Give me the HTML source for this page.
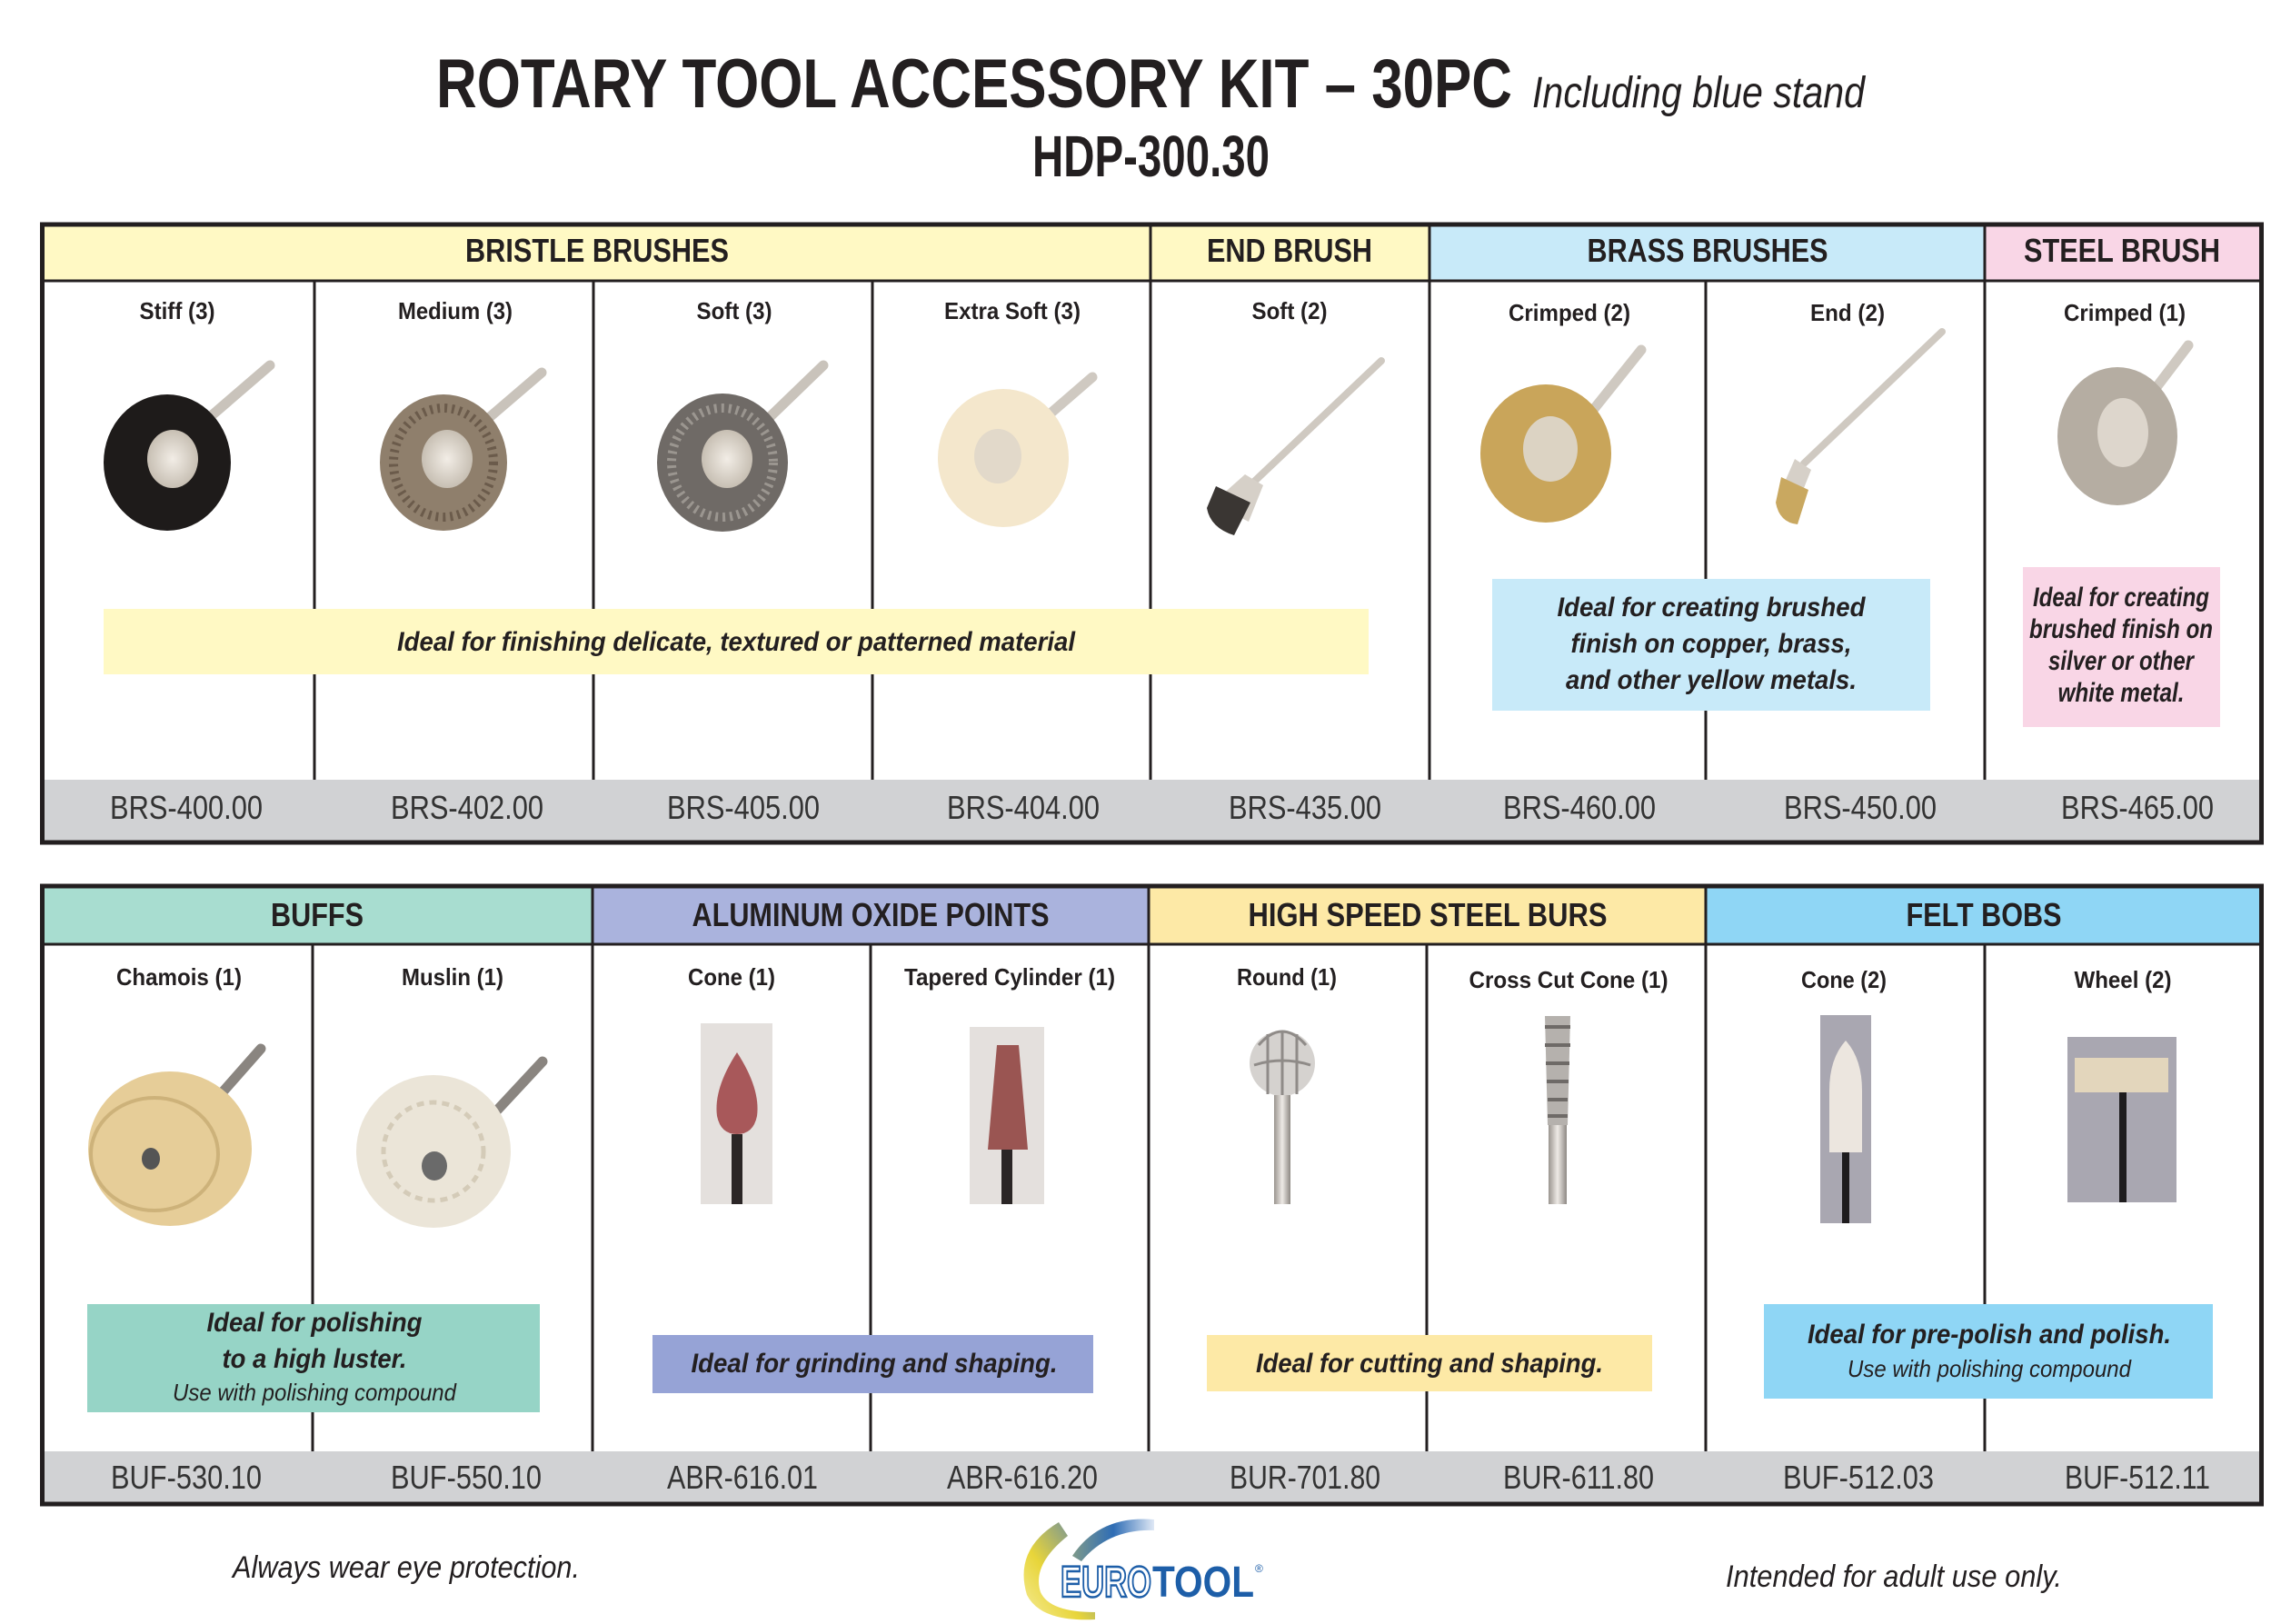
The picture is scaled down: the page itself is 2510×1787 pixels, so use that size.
<!DOCTYPE html>
<html><head><meta charset="utf-8"><style>
html,body{margin:0;padding:0;background:#fff;}
svg{display:block;}
text{font-family:"Liberation Sans Narrow","Liberation Sans",sans-serif;fill:#231f20;}
.cat{font-size:36px;font-weight:bold;text-anchor:middle;}
.sub{font-size:26px;font-weight:bold;text-anchor:middle;}
.pn{font-size:36px;text-anchor:middle;fill:#333;}
.co{font-size:30px;font-weight:bold;font-style:italic;text-anchor:middle;}
.cs{font-size:26px;font-style:italic;text-anchor:middle;}
</style></head><body>
<svg width="2510" height="1787" viewBox="0 0 2510 1787" xmlns="http://www.w3.org/2000/svg">
<defs>
<linearGradient id="sh" x1="0" x2="1"><stop offset="0" stop-color="#9a958f"/><stop offset=".5" stop-color="#eeeae6"/><stop offset="1" stop-color="#8d8883"/></linearGradient>
<radialGradient id="hub"><stop offset="0" stop-color="#f2ede6"/><stop offset="1" stop-color="#c7bfb3"/></radialGradient>
<linearGradient id="sw1" x1="0" y1="1" x2="1" y2="0"><stop offset="0" stop-color="#f5ec9a"/><stop offset=".4" stop-color="#e8d53a"/><stop offset="1" stop-color="#4d7db8"/></linearGradient>
<linearGradient id="sw2" x1="0" x2="1"><stop offset="0" stop-color="#7f9a8a"/><stop offset=".5" stop-color="#2f6db5"/><stop offset="1" stop-color="#dfe8f5"/></linearGradient>
</defs>

<!-- Title -->
<text x="480" y="118" font-size="76" font-weight="bold" textLength="1184" lengthAdjust="spacingAndGlyphs">ROTARY TOOL ACCESSORY KIT – 30PC</text>
<text x="1686" y="118" font-size="48" font-style="italic" textLength="366" lengthAdjust="spacingAndGlyphs">Including blue stand</text>
<text x="1136" y="194" font-size="64" font-weight="bold" textLength="261" lengthAdjust="spacingAndGlyphs">HDP-300.30</text>

<!-- TOP TABLE -->
<rect x="47" y="248" width="1219" height="61" fill="#fff9c4"/>
<rect x="1266" y="248" width="307" height="61" fill="#fff9c4"/>
<rect x="1573" y="248" width="611" height="61" fill="#c8eaf9"/>
<rect x="2184" y="248" width="304" height="61" fill="#f9d6e6"/>
<rect x="47" y="858" width="2441" height="68" fill="#d1d2d4"/>
<g stroke="#231f20" stroke-width="3">
<line x1="47" y1="309" x2="2488" y2="309"/>
<line x1="1266" y1="248" x2="1266" y2="858"/>
<line x1="1573" y1="248" x2="1573" y2="858"/>
<line x1="2184" y1="248" x2="2184" y2="858"/>
<line x1="346" y1="309" x2="346" y2="858"/>
<line x1="653" y1="309" x2="653" y2="858"/>
<line x1="960" y1="309" x2="960" y2="858"/>
<line x1="1877" y1="309" x2="1877" y2="858"/>
</g>
<rect x="46.5" y="247" width="2442" height="680" fill="none" stroke="#231f20" stroke-width="5"/>
<text class="cat" x="657" y="288" textLength="290" lengthAdjust="spacingAndGlyphs">BRISTLE BRUSHES</text>
<text class="cat" x="1419" y="288" textLength="182" lengthAdjust="spacingAndGlyphs">END BRUSH</text>
<text class="cat" x="1879" y="288" textLength="265" lengthAdjust="spacingAndGlyphs">BRASS BRUSHES</text>
<text class="cat" x="2335" y="288" textLength="216" lengthAdjust="spacingAndGlyphs">STEEL BRUSH</text>
<text class="sub" x="195" y="351" textLength="83" lengthAdjust="spacingAndGlyphs">Stiff (3)</text>
<text class="sub" x="501" y="351" textLength="126" lengthAdjust="spacingAndGlyphs">Medium (3)</text>
<text class="sub" x="808" y="351" textLength="83" lengthAdjust="spacingAndGlyphs">Soft (3)</text>
<text class="sub" x="1114" y="351" textLength="150" lengthAdjust="spacingAndGlyphs">Extra Soft (3)</text>
<text class="sub" x="1419" y="351" textLength="83" lengthAdjust="spacingAndGlyphs">Soft (2)</text>
<text class="sub" x="1727" y="353" textLength="134" lengthAdjust="spacingAndGlyphs">Crimped (2)</text>
<text class="sub" x="2033" y="353" textLength="82" lengthAdjust="spacingAndGlyphs">End (2)</text>
<text class="sub" x="2338" y="353" textLength="134" lengthAdjust="spacingAndGlyphs">Crimped (1)</text>
<g class="pn">
<text class="pn" x="205" y="901" textLength="168" lengthAdjust="spacingAndGlyphs">BRS-400.00</text>
<text class="pn" x="514" y="901" textLength="168" lengthAdjust="spacingAndGlyphs">BRS-402.00</text>
<text class="pn" x="818" y="901" textLength="168" lengthAdjust="spacingAndGlyphs">BRS-405.00</text>
<text class="pn" x="1126" y="901" textLength="168" lengthAdjust="spacingAndGlyphs">BRS-404.00</text>
<text class="pn" x="1436" y="901" textLength="168" lengthAdjust="spacingAndGlyphs">BRS-435.00</text>
<text class="pn" x="1738" y="901" textLength="168" lengthAdjust="spacingAndGlyphs">BRS-460.00</text>
<text class="pn" x="2047" y="901" textLength="168" lengthAdjust="spacingAndGlyphs">BRS-450.00</text>
<text class="pn" x="2352" y="901" textLength="168" lengthAdjust="spacingAndGlyphs">BRS-465.00</text>
</g>

<!-- top brushes -->
<g stroke-linecap="round">
<line x1="232" y1="458" x2="297" y2="402" stroke="#c9c3bb" stroke-width="11"/>
<line x1="540" y1="458" x2="596" y2="410" stroke="#c9c3bb" stroke-width="11"/>
<line x1="848" y1="458" x2="906" y2="402" stroke="#c9c3bb" stroke-width="11"/>
<line x1="1150" y1="460" x2="1202" y2="415" stroke="#cfc9c1" stroke-width="11"/>
<line x1="1380" y1="530" x2="1520" y2="397" stroke="#cfc9c1" stroke-width="8"/>
<line x1="1750" y1="455" x2="1806" y2="385" stroke="#cfc9c1" stroke-width="11"/>
<line x1="1985" y1="510" x2="2137" y2="365" stroke="#cfc9c1" stroke-width="8"/>
<line x1="2370" y1="430" x2="2408" y2="380" stroke="#cfc9c1" stroke-width="11"/>
</g>
<ellipse cx="184" cy="509" rx="70" ry="75" fill="#1e1b1a"/>
<ellipse cx="190" cy="505" rx="28" ry="32" fill="url(#hub)"/>
<ellipse cx="488" cy="509" rx="70" ry="75" fill="#8f7f6c"/>
<ellipse cx="488" cy="509" rx="55" ry="60" fill="none" stroke="#6b5b4b" stroke-width="10" stroke-dasharray="3 5"/>
<ellipse cx="492" cy="505" rx="28" ry="32" fill="url(#hub)"/>
<ellipse cx="795" cy="509" rx="72" ry="76" fill="#6f6a66"/>
<ellipse cx="795" cy="509" rx="56" ry="60" fill="none" stroke="#9b9690" stroke-width="10" stroke-dasharray="3 5"/>
<ellipse cx="800" cy="505" rx="28" ry="32" fill="url(#hub)"/>
<ellipse cx="1104" cy="504" rx="72" ry="76" fill="#f4e7cc"/>
<ellipse cx="1098" cy="502" rx="26" ry="30" fill="#e2d9ca"/>
<path d="M1370 522 l20 12 l-16 40 l-40 -20 z" fill="#d6d0c8"/>
<path d="M1338 535 l38 18 l-18 36 q-26 -8 -30 -30 z" fill="#3a3633"/>
<ellipse cx="1701" cy="499" rx="72" ry="76" fill="#c9a55a"/>
<ellipse cx="1706" cy="494" rx="30" ry="36" fill="#dcd3c3"/>
<path d="M1975 505 l18 12 l-12 30 l-20 -10 z" fill="#d6d0c8"/>
<path d="M1960 525 l30 14 l-12 38 q-20 -2 -24 -24 z" fill="#c9a860"/>
<ellipse cx="2330" cy="480" rx="66" ry="76" fill="#b5ada2"/>
<ellipse cx="2336" cy="476" rx="28" ry="38" fill="#ddd6cc"/>

<!-- top callouts -->
<rect x="114" y="670" width="1392" height="72" fill="#fff9c4"/>
<text class="co" x="810" y="716" textLength="746" lengthAdjust="spacingAndGlyphs">Ideal for finishing delicate, textured or patterned material</text>
<rect x="1642" y="637" width="482" height="145" fill="#c8eaf9"/>
<text class="co" x="1883" y="678" textLength="339" lengthAdjust="spacingAndGlyphs">Ideal for creating brushed</text>
<text class="co" x="1883" y="718" textLength="309" lengthAdjust="spacingAndGlyphs">finish on copper, brass,</text>
<text class="co" x="1883" y="758" textLength="320" lengthAdjust="spacingAndGlyphs">and other yellow metals.</text>
<rect x="2226" y="624" width="217" height="176" fill="#f9d6e6"/>
<text class="co" x="2334" y="667" font-size="26" textLength="194" lengthAdjust="spacingAndGlyphs">Ideal for creating</text>
<text class="co" x="2334" y="702" font-size="26" textLength="202" lengthAdjust="spacingAndGlyphs">brushed finish on</text>
<text class="co" x="2334" y="737" font-size="26" textLength="160" lengthAdjust="spacingAndGlyphs">silver or other</text>
<text class="co" x="2334" y="772" font-size="26" textLength="139" lengthAdjust="spacingAndGlyphs">white metal.</text>

<!-- BOTTOM TABLE -->
<rect x="47" y="976" width="605" height="63" fill="#a8ddd0"/>
<rect x="652" y="976" width="612" height="63" fill="#aab3dd"/>
<rect x="1264" y="976" width="613" height="63" fill="#fde9a6"/>
<rect x="1877" y="976" width="611" height="63" fill="#8fd6f5"/>
<rect x="47" y="1597" width="2441" height="57" fill="#d1d2d4"/>
<g stroke="#231f20" stroke-width="3">
<line x1="47" y1="1039" x2="2488" y2="1039"/>
<line x1="652" y1="976" x2="652" y2="1597"/>
<line x1="1264" y1="976" x2="1264" y2="1597"/>
<line x1="1877" y1="976" x2="1877" y2="1597"/>
<line x1="344" y1="1039" x2="344" y2="1597"/>
<line x1="958" y1="1039" x2="958" y2="1597"/>
<line x1="1570" y1="1039" x2="1570" y2="1597"/>
<line x1="2184" y1="1039" x2="2184" y2="1597"/>
</g>
<rect x="46.5" y="975" width="2442" height="680" fill="none" stroke="#231f20" stroke-width="5"/>
<text class="cat" x="349" y="1019" textLength="102" lengthAdjust="spacingAndGlyphs">BUFFS</text>
<text class="cat" x="958" y="1019" textLength="393" lengthAdjust="spacingAndGlyphs">ALUMINUM OXIDE POINTS</text>
<text class="cat" x="1571" y="1019" textLength="395" lengthAdjust="spacingAndGlyphs">HIGH SPEED STEEL BURS</text>
<text class="cat" x="2183" y="1019" textLength="171" lengthAdjust="spacingAndGlyphs">FELT BOBS</text>
<text class="sub" x="197" y="1084" textLength="138" lengthAdjust="spacingAndGlyphs">Chamois (1)</text>
<text class="sub" x="498" y="1084" textLength="112" lengthAdjust="spacingAndGlyphs">Muslin (1)</text>
<text class="sub" x="805" y="1084" textLength="96" lengthAdjust="spacingAndGlyphs">Cone (1)</text>
<text class="sub" x="1111" y="1084" textLength="232" lengthAdjust="spacingAndGlyphs">Tapered Cylinder (1)</text>
<text class="sub" x="1416" y="1084" textLength="110" lengthAdjust="spacingAndGlyphs">Round (1)</text>
<text class="sub" x="1726" y="1087" textLength="219" lengthAdjust="spacingAndGlyphs">Cross Cut Cone (1)</text>
<text class="sub" x="2029" y="1087" textLength="94" lengthAdjust="spacingAndGlyphs">Cone (2)</text>
<text class="sub" x="2336" y="1087" textLength="107" lengthAdjust="spacingAndGlyphs">Wheel (2)</text>
<text class="pn" x="205" y="1638" textLength="166" lengthAdjust="spacingAndGlyphs">BUF-530.10</text>
<text class="pn" x="513" y="1638" textLength="166" lengthAdjust="spacingAndGlyphs">BUF-550.10</text>
<text class="pn" x="817" y="1638" textLength="166" lengthAdjust="spacingAndGlyphs">ABR-616.01</text>
<text class="pn" x="1125" y="1638" textLength="166" lengthAdjust="spacingAndGlyphs">ABR-616.20</text>
<text class="pn" x="1436" y="1638" textLength="166" lengthAdjust="spacingAndGlyphs">BUR-701.80</text>
<text class="pn" x="1737" y="1638" textLength="166" lengthAdjust="spacingAndGlyphs">BUR-611.80</text>
<text class="pn" x="2045" y="1638" textLength="166" lengthAdjust="spacingAndGlyphs">BUF-512.03</text>
<text class="pn" x="2352" y="1638" textLength="160" lengthAdjust="spacingAndGlyphs">BUF-512.11</text>

<!-- bottom images -->
<g stroke-linecap="round">
<line x1="220" y1="1230" x2="287" y2="1154" stroke="#8a8580" stroke-width="11"/>
<line x1="530" y1="1240" x2="597" y2="1168" stroke="#8a8580" stroke-width="11"/>
</g>
<ellipse cx="187" cy="1264" rx="90" ry="85" fill="#e6cd98"/>
<ellipse cx="170" cy="1270" rx="70" ry="62" fill="none" stroke="#cdb27a" stroke-width="4"/>
<ellipse cx="166" cy="1275" rx="10" ry="12" fill="#555"/>
<ellipse cx="477" cy="1267" rx="85" ry="84" fill="#ebe5d8"/>
<ellipse cx="477" cy="1267" rx="55" ry="54" fill="none" stroke="#d4cbb8" stroke-width="5" stroke-dasharray="8 6"/>
<ellipse cx="478" cy="1283" rx="14" ry="16" fill="#6a6a6a"/>

<rect x="771" y="1126" width="79" height="199" fill="#e4e0dd"/>
<path d="M811 1158 q-26 40 -22 70 q4 20 22 20 q18 0 22 -20 q4 -30 -22 -70 z" fill="#a8585a"/>
<rect x="805" y="1248" width="12" height="77" fill="#2b2626"/>
<rect x="1067" y="1130" width="82" height="195" fill="#e4e0dd"/>
<path d="M1097 1150 h24 l10 115 h-44 z" fill="#9a5552"/>
<rect x="1102" y="1265" width="12" height="60" fill="#2b2626"/>

<circle cx="1411" cy="1170" r="36" fill="#d5d2cf"/>
<path d="M1385 1150 q26 -30 52 0 M1380 1172 q31 -10 62 0 M1395 1138 v66 M1411 1134 v72 M1427 1138 v66" stroke="#8f8b88" stroke-width="3" fill="none"/>
<rect x="1402" y="1205" width="18" height="120" fill="url(#sh)"/>
<path d="M1700 1118 h28 l-3 120 h-22 z" fill="#b5b1ad"/>
<path d="M1700 1130 h28 M1700 1150 h28 M1701 1170 h26 M1702 1190 h24 M1703 1210 h22 M1703 1228 h22" stroke="#6e6a67" stroke-width="4"/>
<rect x="1704" y="1238" width="20" height="87" fill="url(#sh)"/>

<rect x="2003" y="1117" width="56" height="229" fill="#a9a7b1"/>
<path d="M2031 1145 q-18 20 -18 55 v68 h36 v-68 q0 -35 -18 -55 z" fill="#ece6df"/>
<rect x="2027" y="1268" width="8" height="78" fill="#1e1c1e"/>
<rect x="2275" y="1141" width="120" height="182" fill="#a9a7b1"/>
<rect x="2283" y="1164" width="103" height="38" fill="#e3d6bc"/>
<rect x="2332" y="1202" width="8" height="121" fill="#1e1c1e"/>

<!-- bottom callouts -->
<rect x="96" y="1435" width="498" height="119" fill="#96d4c6"/>
<text class="co" x="346" y="1465" textLength="237" lengthAdjust="spacingAndGlyphs">Ideal for polishing</text>
<text class="co" x="346" y="1505" textLength="203" lengthAdjust="spacingAndGlyphs">to a high luster.</text>
<text class="cs" x="346" y="1541" textLength="312" lengthAdjust="spacingAndGlyphs">Use with polishing compound</text>
<rect x="718" y="1469" width="485" height="64" fill="#96a3d6"/>
<text class="co" x="962" y="1510" textLength="403" lengthAdjust="spacingAndGlyphs">Ideal for grinding and shaping.</text>
<rect x="1328" y="1469" width="490" height="62" fill="#fde9a6"/>
<text class="co" x="1573" y="1510" textLength="382" lengthAdjust="spacingAndGlyphs">Ideal for cutting and shaping.</text>
<rect x="1941" y="1435" width="494" height="104" fill="#8fd6f5"/>
<text class="co" x="2189" y="1478" textLength="400" lengthAdjust="spacingAndGlyphs">Ideal for pre-polish and polish.</text>
<text class="cs" x="2189" y="1515" textLength="312" lengthAdjust="spacingAndGlyphs">Use with polishing compound</text>

<!-- footer -->
<text x="256" y="1736" font-size="34" font-style="italic" textLength="382" lengthAdjust="spacingAndGlyphs">Always wear eye protection.</text>
<text x="1899" y="1746" font-size="34" font-style="italic" textLength="370" lengthAdjust="spacingAndGlyphs">Intended for adult use only.</text>
<path d="M1165 1675 q-50 30 -35 80 q15 30 75 27 l0 -8 q-50 0 -60 -22 q-10 -30 30 -62 z" fill="url(#sw1)"/>
<path d="M1180 1712 q30 -45 90 -40 l0 12 q-50 -2 -80 34 z" fill="url(#sw2)"/>
<text x="1167" y="1757" font-size="48" font-weight="bold" style="fill:#fff;stroke:#1d5ea8;stroke-width:2.5" textLength="100" lengthAdjust="spacingAndGlyphs">EURO</text>
<text x="1268" y="1757" font-size="48" font-weight="bold" style="fill:#1d5ea8" textLength="112" lengthAdjust="spacingAndGlyphs">TOOL</text>
<text x="1381" y="1730" font-size="12" style="fill:#1d5ea8">®</text>
</svg>
</body></html>
